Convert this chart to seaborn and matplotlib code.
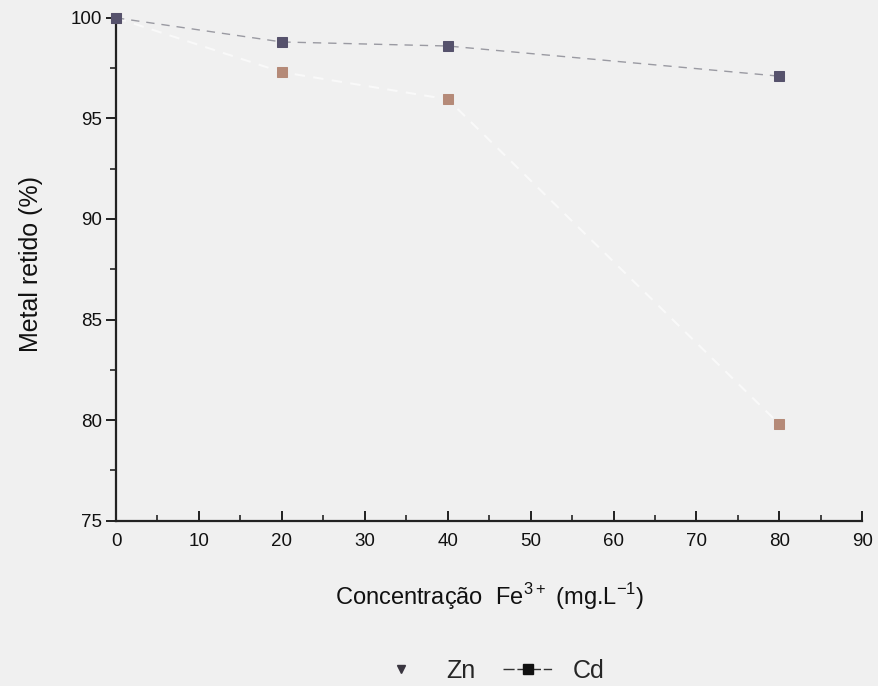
import matplotlib
matplotlib.use("Agg")
import matplotlib.pyplot as plt
import seaborn as sns
import pandas as pd
from matplotlib.ticker import MultipleLocator
from matplotlib.lines import Line2D

conc = [0, 20, 40, 80]
zn = [100.0, 97.3, 95.95, 79.8]
cd = [100.0, 98.8, 98.6, 97.1]
x_ticks = [0, 10, 20, 30, 40, 50, 60, 70, 80, 90]
y_ticks = [75, 80, 85, 90, 95, 100]

sns.set_style("ticks")
plt.rcParams['font.family'] = ['Liberation Sans', 'DejaVu Sans']
plt.rcParams['mathtext.fontset'] = 'custom'
plt.rcParams['mathtext.rm'] = 'Liberation Sans'

bg = "#f0f0f0"
fig = plt.figure(figsize=(8.79, 6.86), dpi=100, facecolor=bg)
ax = fig.add_axes([0.132, 0.241, 0.849, 0.733])
ax.set_facecolor(bg)

df = pd.DataFrame({"conc": conc, "Zn": zn, "Cd": cd})

sns.lineplot(data=df, x="conc", y="Zn", ax=ax, color="#f9f9f9", lw=1.5,
             linestyle=(0, (5, 4)), marker="s", markersize=7,
             markerfacecolor="#b58a78", markeredgecolor="#b58a78", clip_on=False, zorder=3)
sns.lineplot(data=df, x="conc", y="Cd", ax=ax, color="#9a9aa2", lw=1.0,
             linestyle=(0, (6, 5)), marker="s", markersize=7,
             markerfacecolor="#56526c", markeredgecolor="#56526c", clip_on=False, zorder=4)

ax.set_xlim(0, 90)
ax.set_ylim(75, 100)
ax.set_xticks(x_ticks)
ax.set_yticks(y_ticks)
ax.xaxis.set_minor_locator(MultipleLocator(5))
ax.yaxis.set_minor_locator(MultipleLocator(2.5))
ax.tick_params(axis="x", which="major", direction="in", length=7, width=1.3, labelsize=13.5, pad=9, colors="#111111")
ax.tick_params(axis="x", which="minor", direction="in", length=4, width=1.2)
ax.tick_params(axis="y", which="major", direction="out", length=7, width=1.3, labelsize=13.5, pad=3, colors="#111111")
ax.tick_params(axis="y", which="minor", direction="out", length=4, width=1.2)
for s in ["top", "right"]:
    ax.spines[s].set_visible(False)
for s in ["left", "bottom"]:
    ax.spines[s].set_linewidth(1.6)
    ax.spines[s].set_color("#222222")

ax.set_xlabel("Concentração  Fe$^{3+}$ (mg.L$^{-1}$)", fontsize=17, labelpad=22, color="#111111")
ax.set_ylabel("Metal retido (%)", fontsize=18, color="#111111")
ax.yaxis.set_label_coords(-0.098, 0.51)

handles = [
    Line2D([], [], linestyle="none", marker="v", markersize=6, color="#3a3640"),
    Line2D([], [], color="#333333", lw=1.0, linestyle=(0, (8, 2, 6, 3)), marker="s", markersize=7,
           markerfacecolor="#111111", markeredgecolor="#111111"),
]
fig.legend(handles, ["Zn", "Cd"], loc="center", bbox_to_anchor=(0.558, 0.022), ncol=2,
           frameon=False, fontsize=18, handlelength=2.0, handletextpad=0.8, columnspacing=1.1)

fig.savefig("out.png", dpi=100, facecolor=bg)
